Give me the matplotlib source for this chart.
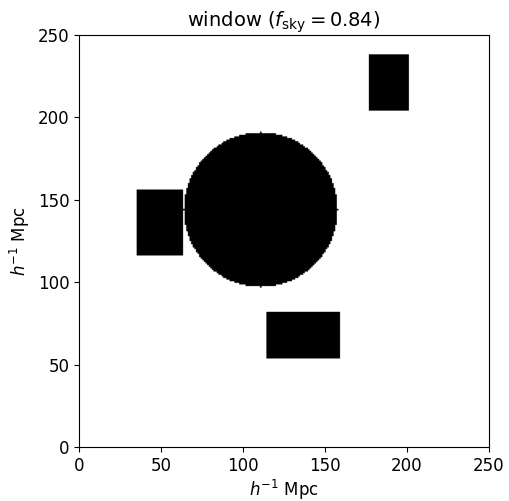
import numpy as np
import matplotlib
matplotlib.use("Agg")
import matplotlib.pyplot as plt

# Box size and grid
box_size = 250.0
n_grid = 256

# Masked regions
circle_center_cells = [113, 147]   # grid cell indices (x, y)
circle_radius_cells = 48
rect_x0 = [35, 177, 114]
rect_x1 = [63, 201, 159]
rect_y0 = [116, 204, 54]
rect_y1 = [156, 238, 82]

title_text = r"window ($f_{\rm sky} = 0.84$)"

dx = box_size / n_grid
idx = np.arange(n_grid)
I, J = np.meshgrid(idx, idx)  # I -> x index, J -> y index
xc = (I + 0.5) * dx
yc = (J + 0.5) * dx

mask = np.zeros((n_grid, n_grid), dtype=float)
circ = (I - circle_center_cells[0])**2 + (J - circle_center_cells[1])**2 <= circle_radius_cells**2
mask[circ] = 1
for x0, x1, y0, y1 in zip(rect_x0, rect_x1, rect_y0, rect_y1):
    mask[(xc >= x0) & (xc <= x1) & (yc >= y0) & (yc <= y1)] = 1

fig = plt.figure(figsize=(5.09, 5.01), dpi=100)
ax = fig.add_axes([79/509, 1-447/501, 410/509, 412/501])
ax.imshow(mask, origin="lower", extent=[0, box_size, 0, box_size],
          cmap="binary", vmin=0, vmax=1, aspect="auto")
ax.set_xlim(0, box_size)
ax.set_ylim(0, box_size)
ax.set_xticks([0, 50, 100, 150, 200, 250])
ax.set_yticks([0, 50, 100, 150, 200, 250])
ax.tick_params(labelsize=12)
ax.set_xlabel(r"$h^{-1}$ Mpc", fontsize=12, labelpad=2)
ax.set_ylabel(r"$h^{-1}$ Mpc", fontsize=12)
ax.set_title(title_text, fontsize=14)
fig.savefig("out.png", dpi=100)
